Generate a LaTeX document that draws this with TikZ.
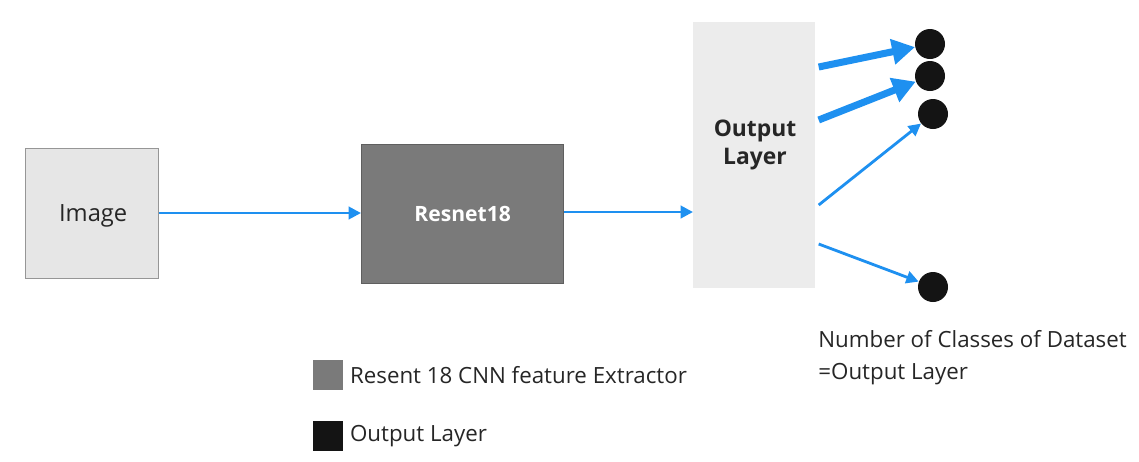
\documentclass[tikz,border=0pt]{standalone}
\usepackage{fontspec}
\setmainfont{Open Sans}
\usetikzlibrary{arrows.meta,calc}
\definecolor{flow}{RGB}{30,144,240}
\definecolor{boxlight}{RGB}{230,230,230}
\definecolor{boxedge}{RGB}{150,150,150}
\definecolor{cnn}{RGB}{122,122,122}
\definecolor{cnnedge}{RGB}{95,95,95}
\definecolor{outfill}{RGB}{236,236,236}
\definecolor{unit}{RGB}{20,20,20}
\tikzset{
  px/.style={x=0.02cm,y=-0.02cm},
  blk/.style={rectangle,inner sep=0pt,anchor=north west},
  link/.style={draw=flow,line width=1.6pt,-{Triangle[length=7pt,width=7pt]}},
  boldlink/.style={draw=flow,line width=4pt,-{Triangle[length=13pt,width=14pt]}},
  neuron/.style={circle,fill=unit,minimum size=0.6cm,inner sep=0pt},
  swatch/.style={rectangle,minimum size=0.6cm,inner sep=0pt,anchor=north west},
  lbl/.style={font=\fontsize{12.7}{18}\selectfont,anchor=west,inner sep=0pt,text=black!85},
}
\begin{document}
\begin{tikzpicture}[px]
\useasboundingbox (0,0) rectangle (1139,461);
% main blocks
\node[blk,draw=boxedge,fill=boxlight,line width=0.8pt,minimum width=2.66cm,minimum height=2.6cm] (img) at (25,148) {};
\node[font=\fontsize{13.5}{16}\selectfont,text=black!85] at ($(img.center)+(1,2)$) {Image};
\node[blk,draw=cnnedge,fill=cnn,line width=0.8pt,minimum width=4.04cm,minimum height=2.78cm] (res) at (361,144) {};
\node[font=\bfseries\fontsize{12}{14}\selectfont,text=white] at (res.center) {Resnet18};
\node[blk,fill=outfill,minimum width=2.44cm,minimum height=5.32cm] (out) at (693,22) {};
\node[font=\bfseries\fontsize{13}{16}\selectfont,align=center,text=black!85] (outtxt) at (755,145) {Output\\Layer};
% output units
\node[neuron] (n1) at (930,44) {};
\node[neuron] (n2) at (930,76) {};
\node[neuron] (n3) at (933,114) {};
\node[neuron] (n4) at (933,287) {};
% connectors
\draw[link] (img.east |- 0,213) -- (res.west |- 0,213);
\draw[link] (res.east |- 0,212) -- (out.west |- 0,212);
\coordinate (s1) at ($(out.north east)+(3,45)$);
\coordinate (s2) at ($(out.north east)+(3,98)$);
\coordinate (s3) at ($(out.north east)+(3,183)$);
\coordinate (s4) at ($(out.north east)+(3,222)$);
\draw[boldlink] (s1) -- (n1);
\draw[boldlink] (s2) -- (n2);
\draw[link] (s3) -- (n3);
\draw[link] (s4) -- (n4);
% caption
\node[lbl,anchor=north west,align=left] (cap) at (818,330) {Number of Classes of Dataset\\=Output Layer};
% legend
\node[swatch,fill=cnn] (k1) at (313,360) {};
\node[lbl] (k1t) at ($(k1.east)+(6,0)$) {Resent 18 CNN feature Extractor};
\node[swatch,fill=unit] (k2) at (313,421) {};
\node[lbl] (k2t) at ($(k2.east)+(6,0)$) {Output Layer};
\end{tikzpicture}
\end{document}
